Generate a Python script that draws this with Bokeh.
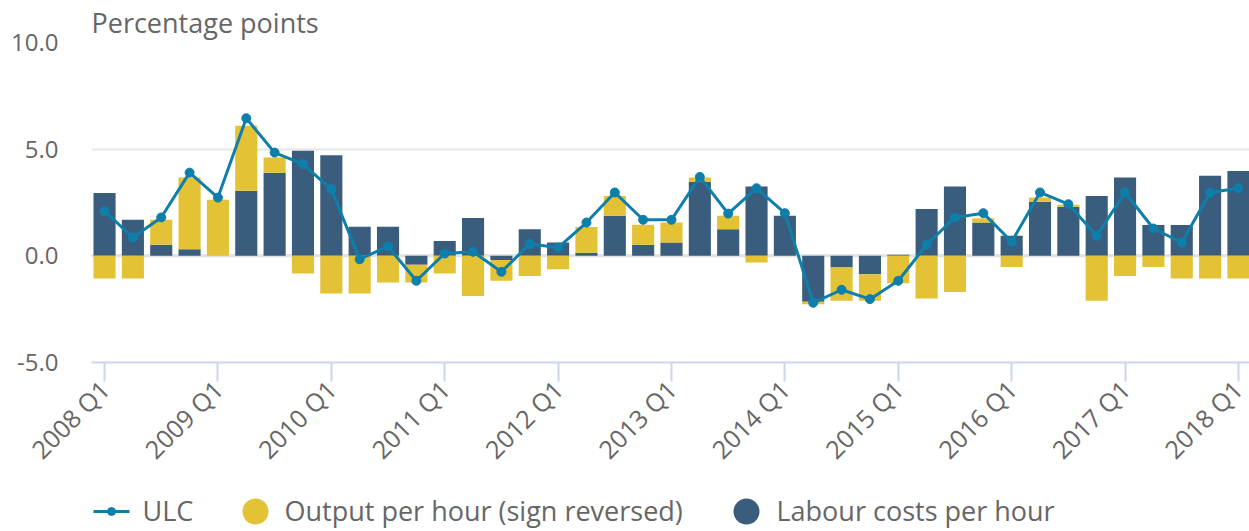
from math import pi
from bokeh.plotting import figure
from bokeh.layouts import column
from bokeh.models import (ColumnDataSource, Range1d, FixedTicker, NumeralTickFormatter, Span)
from bokeh.core.properties import value
from bokeh.embed import file_html
from bokeh.resources import INLINE

# ---------------- data ----------------
quarters = [
    "2008 Q1", "2008 Q2", "2008 Q3", "2008 Q4",
    "2009 Q1", "2009 Q2", "2009 Q3", "2009 Q4",
    "2010 Q1", "2010 Q2", "2010 Q3", "2010 Q4",
    "2011 Q1", "2011 Q2", "2011 Q3", "2011 Q4",
    "2012 Q1", "2012 Q2", "2012 Q3", "2012 Q4",
    "2013 Q1", "2013 Q2", "2013 Q3", "2013 Q4",
    "2014 Q1", "2014 Q2", "2014 Q3", "2014 Q4",
    "2015 Q1", "2015 Q2", "2015 Q3", "2015 Q4",
    "2016 Q1", "2016 Q2", "2016 Q3", "2016 Q4",
    "2017 Q1", "2017 Q2", "2017 Q3", "2017 Q4",
    "2018 Q1",
]
labour_costs = [2.94, 1.69, 0.52, 0.31, 0.0, 3.05, 3.89, 4.92, 4.72, 1.36, 1.36, -0.42,
                0.70, 1.77, -0.20, 1.25, 0.62, 0.15, 1.88, 0.52, 0.62, 3.47, 1.25, 3.25,
                1.88, -2.15, -0.55, -0.86, 0.05, 2.19, 3.25, 1.56, 0.94, 2.53, 2.30, 2.81,
                3.67, 1.45, 1.45, 3.75, 3.98]
output_rev = [-1.06, -1.06, 1.17, 3.36, 2.63, 3.05, 0.72, -0.83, -1.77, -1.77, -1.25, -0.83,
              -0.83, -1.88, -0.97, -0.94, -0.63, 1.20, 0.93, 0.94, 0.94, 0.20, 0.63, -0.31,
              0.0, -0.12, -1.56, -1.25, -1.28, -2.00, -1.69, 0.20, -0.52, 0.20, 0.10, -2.11,
              -0.94, -0.52, -1.06, -1.06, -1.06]
ulc = [2.10, 0.86, 1.80, 3.90, 2.73, 6.45, 4.84, 4.30, 3.12, -0.16, 0.44, -1.17,
       0.11, 0.19, -0.75, 0.55, 0.39, 1.56, 2.97, 1.69, 1.69, 3.70, 1.98, 3.17,
       2.00, -2.20, -1.59, -2.03, -1.17, 0.52, 1.80, 2.00, 0.66, 2.97, 2.42, 0.94,
       2.97, 1.28, 0.62, 2.97, 3.17]
series_names = ["ULC", "Output per hour (sign reversed)", "Labour costs per hour"]
y_ticks = [-5, 0, 5, 10]
title_text = "Percentage points"

# ---------------- styles ----------------
DARK = "#3b5d7d"
YELLOW = "#e3c235"
LINE = "#0e7fab"
TEXT = "#666666"
AXIS = "#ccd6eb"
FONT = "Open Sans"

# stacking: labour costs nearest zero, output stacked beyond it
xs = list(range(len(quarters)))
lab_bottom = [0.0] * len(xs)
lab_top = labour_costs
out_bottom = [l if (l * o) > 0 else 0.0 for l, o in zip(labour_costs, output_rev)]
out_top = [b + o for b, o in zip(out_bottom, output_rev)]

src = ColumnDataSource(dict(x=xs, lb=lab_bottom, lt=lab_top, ob=out_bottom, ot=out_top, ulc=ulc))

p = figure(width=1249, height=480, x_range=Range1d(-0.46, 40.39), y_range=Range1d(-5, 10),
           output_backend="svg", toolbar_location=None, title=title_text,
           min_border_left=91, min_border_right=0, min_border_top=40, min_border_bottom=114)
p.outline_line_color = None
p.background_fill_color = "white"
p.border_fill_color = "white"

p.title.align = "left"
p.title.text_font = FONT
p.title.text_font_size = "27px"
p.title.text_font_style = "normal"
p.title.text_color = TEXT
p.title.standoff = 3
p.title.offset = 0

p.xgrid.visible = False
p.ygrid.ticker = FixedTicker(ticks=y_ticks)
p.ygrid.grid_line_color = "#e6e6e6"
p.ygrid.grid_line_width = 2

zero = Span(location=0, dimension="width", line_color="#e2e2e2", line_width=3, level="underlay")
p.add_layout(zero)

p.vbar(x="x", bottom="lb", top="lt", width=0.78, source=src, fill_color=DARK, line_color=None)
p.vbar(x="x", bottom="ob", top="ot", width=0.78, source=src, fill_color=YELLOW, line_color=None)
p.line(x="x", y="ulc", source=src, line_color=LINE, line_width=3)
p.scatter(x="x", y="ulc", source=src, size=9, fill_color=LINE, line_color=LINE)

# y axis
ya = p.yaxis[0]
ya.ticker = FixedTicker(ticks=y_ticks)
ya.formatter = NumeralTickFormatter(format="0.0")
ya.axis_line_color = None
ya.major_tick_line_color = None
ya.minor_tick_line_color = None
ya.major_tick_out = 0
ya.major_tick_in = 0
ya.major_label_standoff = 33
ya.major_label_text_font = FONT
ya.major_label_text_font_size = "24px"
ya.major_label_text_color = TEXT

# x axis
xa = p.xaxis[0]
tick_idx = list(range(0, len(quarters), 4))
xa.ticker = FixedTicker(ticks=tick_idx)
xa.major_label_overrides = {i: quarters[i] for i in tick_idx}
xa.major_label_orientation = pi / 4
xa.axis_line_color = AXIS
xa.axis_line_width = 2
xa.major_tick_line_color = AXIS
xa.major_tick_line_width = 2
xa.major_tick_out = 19
xa.major_tick_in = 0
xa.minor_tick_line_color = None
xa.major_label_standoff = 3
xa.major_label_text_font = FONT
xa.major_label_text_font_size = "25px"
xa.major_label_text_color = TEXT

# ---------------- legend strip ----------------
leg = figure(width=1249, height=51, x_range=Range1d(91, 1249), y_range=Range1d(-531, -480),
             output_backend="svg", toolbar_location=None, x_axis_type=None, y_axis_type=None,
             min_border_left=91, min_border_right=0, min_border_top=0, min_border_bottom=0)
leg.outline_line_color = None
leg.xgrid.visible = False
leg.ygrid.visible = False
ly = -511
leg.line(x=[93, 129], y=[ly, ly], line_color=LINE, line_width=3)
leg.scatter(x=[111], y=[ly], size=8, fill_color=LINE, line_color=LINE)
leg.scatter(x=[255, 746], y=[ly, ly], size=26, fill_color=[YELLOW, DARK], line_color=None)
leg.text(x=[142, 284, 776], y=[-510, -510, -510], text=series_names,
         text_font=value(FONT), text_font_size="27px", text_color=TEXT,
         text_baseline="middle", text_align="left")

layout = column(p, leg, spacing=0)
open("out.html", "w").write(file_html(layout, INLINE))
